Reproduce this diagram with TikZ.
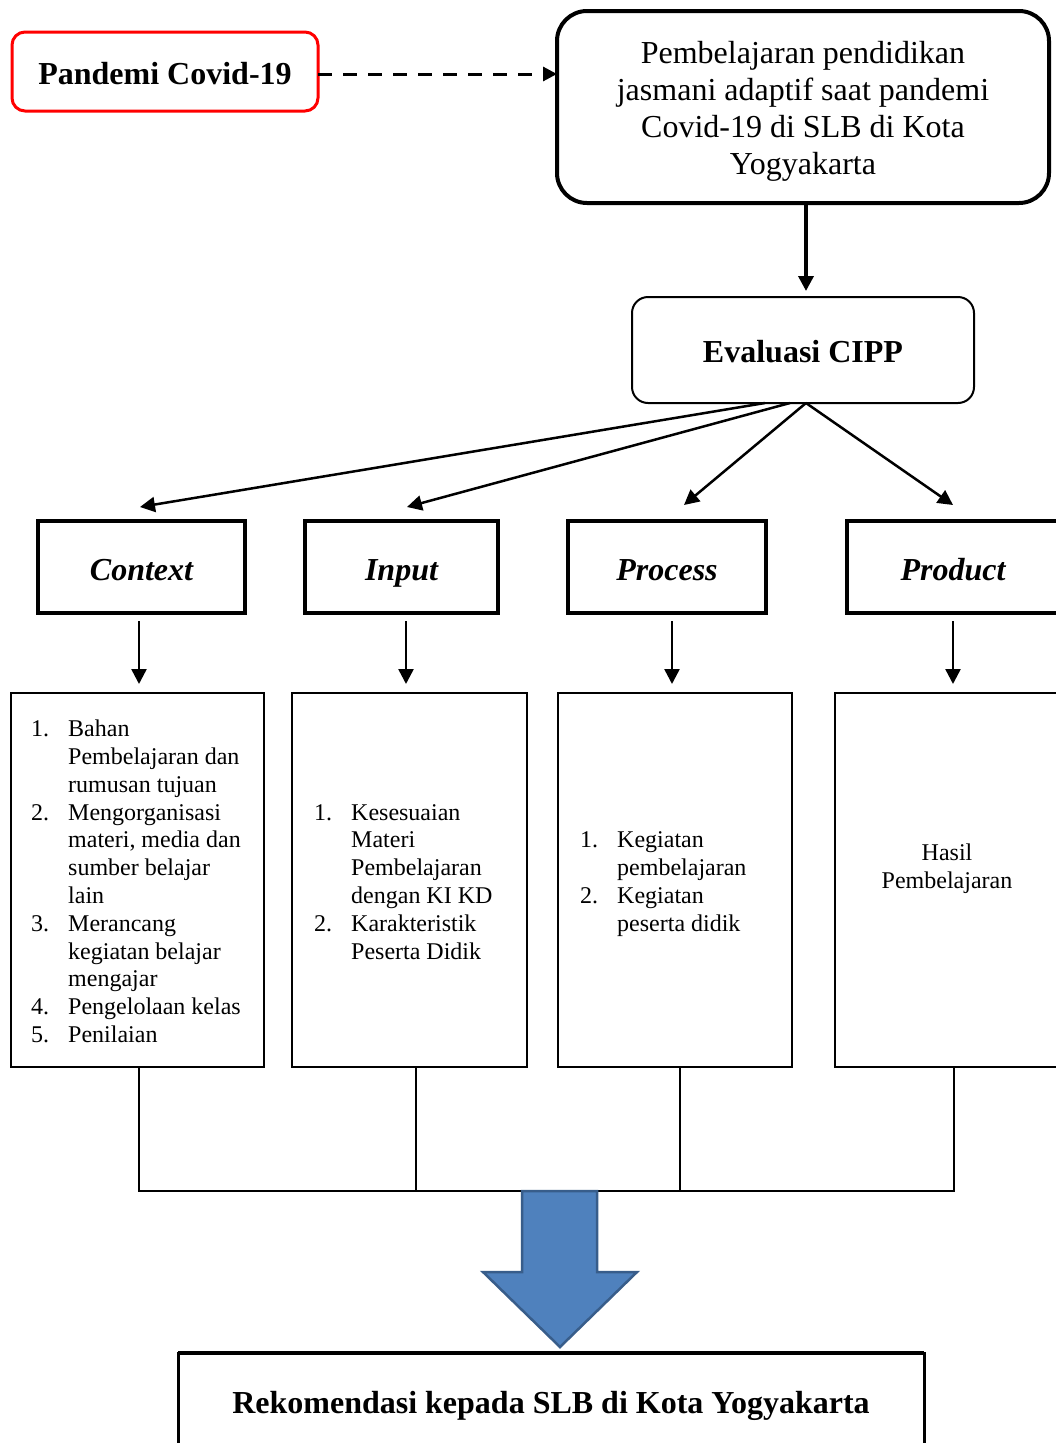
\documentclass[tikz,border=0pt]{standalone}
\usepackage{fontspec}
\setmainfont{Liberation Serif}
\usetikzlibrary{arrows.meta}
\definecolor{arrowblue}{RGB}{79,129,189}
\definecolor{arrowedge}{RGB}{56,93,138}
\newcommand{\numit}[1]{\makebox[37pt][l]{#1}}
\begin{document}
\begin{tikzpicture}[x=1pt,y=-1pt,
  box/.style={draw, outer sep=0pt, inner sep=0pt},
  bigfont/.style={font=\fontsize{32}{37}\selectfont},
  boldfont/.style={font=\fontsize{32}{37}\selectfont\bfseries},
  cippbox/.style={box, line width=4pt, minimum height=92pt, text height=28pt, text depth=2pt, font=\fontsize{32}{37}\selectfont\bfseries\itshape},
  contentbox/.style={box, line width=2pt, minimum height=374pt},
  listtext/.style={anchor=west, inner sep=0pt, font=\fontsize{24}{27.8}\selectfont},
  arr/.style={line width=2.5pt, -{Triangle[length=15pt,width=15pt]}},
  bus/.style={line width=2.5pt},
]
\useasboundingbox (0,0) rectangle (1056,1443);

% top row
\node[box, draw=red, line width=3pt, rounded corners=13pt, minimum width=306pt, minimum height=79pt, text height=26pt, text depth=0pt, boldfont] (pan) at (165,71.5) {Pandemi Covid-19};
\node[box, line width=4pt, rounded corners=30pt, minimum width=492pt, minimum height=192pt, align=center, bigfont] (top) at (803,107) {\rule{0pt}{30.5pt}Pembelajaran pendidikan\\jasmani adaptif saat pandemi\\Covid-19 di SLB di Kota\\Yogyakarta};
\node[box, line width=2pt, rounded corners=16pt, minimum width=342pt, minimum height=106pt, text height=25pt, text depth=0pt, boldfont] (ev) at (803,350) {Evaluasi CIPP};

% CIPP boxes
\node[cippbox, minimum width=207pt] (ctx) at (141.5,567) {Context};
\node[cippbox, minimum width=193pt] (inp) at (401.5,567) {Input};
\node[cippbox, minimum width=198pt] (pro) at (667,567) {Process};
\node[cippbox, minimum width=212pt] (prd) at (953,567) {Product};

% content boxes
\node[contentbox, minimum width=253pt] (b1) at (137.5,880) {};
\node[contentbox, minimum width=235pt] (b2) at (409.5,880) {};
\node[contentbox, minimum width=234pt] (b3) at (675,880) {};
\node[contentbox, minimum width=224pt, align=center, font=\fontsize{24}{27.8}\selectfont] (b4) at (947,880) {Hasil\\Pembelajaran\\\mbox{}};

\node[listtext] (t1) at ([xshift=20pt,yshift=-4pt]b1.west) {\begin{tabular}{@{}l@{}l@{}}
\numit{1.} & Bahan\\
 & Pembelajaran dan\\
 & rumusan tujuan\\
\numit{2.} & Mengorganisasi\\
 & materi, media dan\\
 & sumber belajar\\
 & lain\\
\numit{3.} & Merancang\\
 & kegiatan belajar\\
 & mengajar\\
\numit{4.} & Pengelolaan kelas\\
\numit{5.} & Penilaian
\end{tabular}};
\node[listtext] (t2) at ([xshift=22pt,yshift=-4pt]b2.west) {\begin{tabular}{@{}l@{}l@{}}
\numit{1.} & Kesesuaian\\
 & Materi\\
 & Pembelajaran\\
 & dengan KI KD\\
\numit{2.} & Karakteristik\\
 & Peserta Didik
\end{tabular}};
\node[listtext] (t3) at ([xshift=22pt,yshift=-4pt]b3.west) {\begin{tabular}{@{}l@{}l@{}}
\numit{1.} & Kegiatan\\
 & pembelajaran\\
\numit{2.} & Kegiatan\\
 & peserta didik
\end{tabular}};

% recommendation box
\node[box, line width=3pt, minimum width=746pt, minimum height=96pt, text height=24pt, text depth=0pt, boldfont] (rek) at (551,1401) {Rekomendasi kepada SLB di Kota Yogyakarta};
\draw[line width=4.5pt] (rek.north west) -- (rek.north east);

% connectors
\draw[line width=3pt, dash pattern=on 14pt off 11pt, -{Triangle[length=14pt,width=14pt]}] ([yshift=-2.5pt]pan.east) -- ([yshift=-2.5pt]pan.east -| top.west);
\draw[arr, line width=3.5pt] ([xshift=3pt]top.south) -- ([xshift=3pt,yshift=6pt]ev.north);
\draw[arr] ([xshift=-38pt]ev.south) -- ([xshift=-1.5pt,yshift=14pt]ctx.north);
\draw[arr] ([xshift=-13pt]ev.south) -- ([xshift=5.5pt,yshift=14pt]inp.north);
\draw[arr] ([xshift=3pt]ev.south) -- ([xshift=17pt,yshift=16pt]pro.north);
\draw[arr] ([xshift=3pt]ev.south) -- ([yshift=16pt]prd.north);

\draw[arr] ([xshift=-2.5pt,yshift=-8pt]ctx.south) -- ([xshift=1.5pt,yshift=9pt]b1.north);
\draw[arr] ([xshift=4.5pt,yshift=-8pt]inp.south) -- ([xshift=-3.5pt,yshift=9pt]b2.north);
\draw[arr] ([xshift=5pt,yshift=-8pt]pro.south) -- ([xshift=-3pt,yshift=9pt]b3.north);
\draw[arr] ([yshift=-8pt]prd.south) -- ([xshift=6pt,yshift=9pt]b4.north);

% bus
\coordinate (j1) at (139,1191);
\coordinate (j2) at (416,1191);
\coordinate (j3) at (680,1191);
\coordinate (j4) at (954,1191);
\draw[bus] (b1.south -| j1) -- (j1) -- (j4) -- (b4.south -| j4);
\draw[bus] (b2.south -| j2) -- (j2);
\draw[bus] (b3.south -| j3) -- (j3);

% big block arrow
\draw[fill=arrowblue, draw=arrowedge, line width=2.5pt, line join=miter]
  (522,1191) -- (597,1191) -- (597,1272) -- (637,1272) -- (560,1347) -- (483,1272) -- (522,1272) -- cycle;
\end{tikzpicture}
\end{document}
